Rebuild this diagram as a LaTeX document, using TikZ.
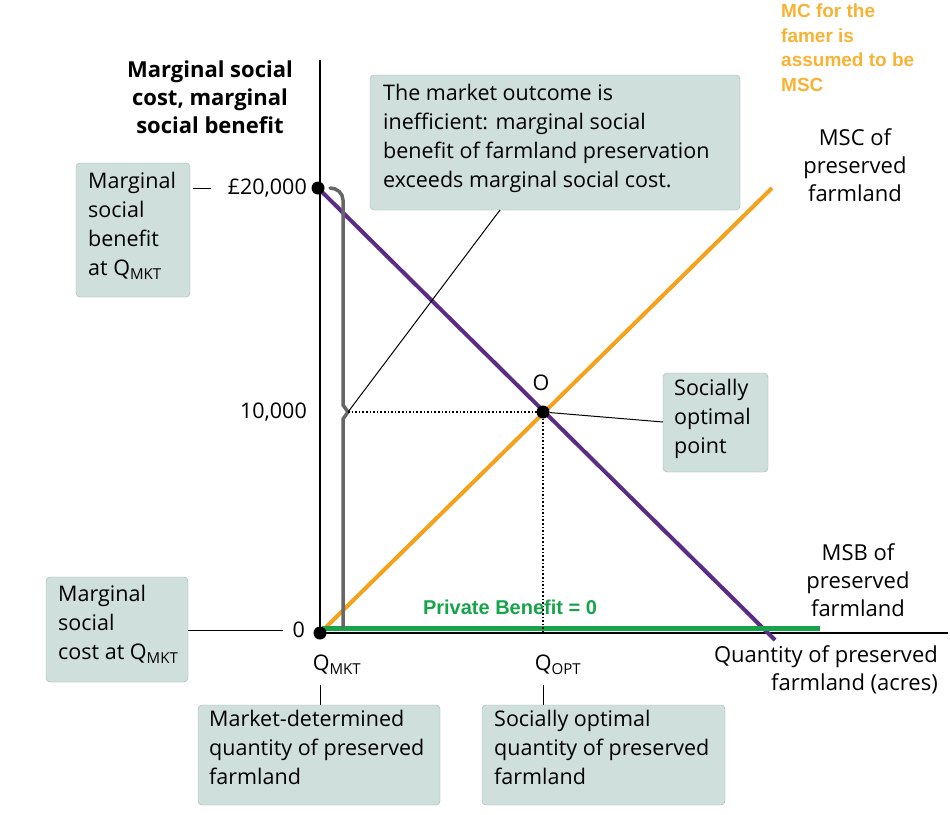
\documentclass[tikz,border=0pt]{standalone}
\usepackage{fontspec}
\setmainfont{Open Sans}
\newfontfamily\arialf{Liberation Sans}
\begin{document}
\begin{tikzpicture}[x=1pt,y=-1pt,
  tbox/.style={fill=boxc,draw=boxc!80!black,line width=0.4pt,rounded corners=4pt,inner sep=0pt,anchor=north west},
  btxt/.style={align=left,font=\fontsize{21.5}{29}\selectfont,anchor=north west,inner sep=0pt},
  lab/.style={font=\fontsize{21.5}{26}\selectfont,inner sep=0pt},
  dotp/.style={circle,fill=black,inner sep=0pt,minimum size=13pt},
  ln/.style={line width=1pt}]
\definecolor{boxc}{HTML}{CFDFDB}
\definecolor{purp}{HTML}{5B2C86}
\definecolor{orng}{HTML}{F5A11C}
\definecolor{grn}{HTML}{16A34A}
\definecolor{orngt}{HTML}{F7B334}
\useasboundingbox (0,0) rectangle (950,814);
\fill[white] (0,0) rectangle (950,814);
% axes
\coordinate (O0) at (320,633);
\coordinate (ytop) at (320,60);
\coordinate (xend) at (948,633);
\draw[line width=1.3pt] (ytop) -- (O0) -- (xend);
% lines
\coordinate (p20) at (318,188);
\coordinate (pmsb) at (775,640);
\coordinate (pmsc) at (772,188);
\coordinate (popt) at (543,412);
\draw[orng,line width=4pt] (O0) -- (pmsc);
\draw[purp,line width=4pt] (p20) -- (pmsb);
\coordinate (g1) at (322,628); \coordinate (g2) at (820,628);
\draw[grn,line width=5pt] (g1) -- (g2);
% brace
\draw[gray!80!black,line width=3.5pt,line cap=round] (330,188) to[out=0,in=90] (343,200) -- (343,405) -- (348,412) -- (343,419) -- (343,627);
% dotted
\coordinate (br) at (348,412);
\coordinate (qopt) at (543,633);
\draw[line width=1.6pt,dotted] (br) -- (popt) -- (qopt);
\node[dotp] (d20) at (p20) {};
\node[dotp] (dopt) at (popt) {};
\node[dotp] (d0) at (O0) {};
% axis labels
\node[lab,anchor=east] (l20) at (307,188) {£20,000};
\node[lab,anchor=east] (l10) at (307,412) {10,000};
\node[lab,anchor=east] (l0) at (305,630) {0};
\node[lab] (lO) at (541,383) {O};
\node[lab] (qm) at (337,665) {Q\textsubscript{MKT}};
\node[lab] (qo) at (558,665) {Q\textsubscript{OPT}};
\node[align=center,font=\fontsize{22}{28}\selectfont\bfseries,inner sep=0pt] (ttl) at (210,97) {Marginal social\\cost, marginal\\social benefit};
\node[align=right,font=\fontsize{22}{28}\selectfont,anchor=north east,inner sep=0pt] (qty) at (938,645) {Quantity of preserved\\farmland (acres)};
\node[align=center,font=\fontsize{22}{28}\selectfont,inner sep=0pt] (msc) at (855,165) {MSC of\\preserved\\farmland};
\node[align=center,font=\fontsize{22}{28}\selectfont,inner sep=0pt] (msb) at (858,580) {MSB of\\preserved\\farmland};
\node[grn,font=\arialf\fontsize{20}{24}\selectfont\bfseries,inner sep=0pt] (pb) at (510,607) {Private Benefit = 0};
\node[orngt,align=left,anchor=north west,font=\arialf\fontsize{19}{24.5}\selectfont\bfseries,inner sep=0pt] (mc) at (781,4) {MC for the\\famer is\\assumed to be\\MSC};
% boxes
\draw[tbox] (76,163) rectangle (190,297);
\node[btxt] (b1) at (88,172) {Marginal\\social\\benefit\\at Q\textsubscript{MKT}};
\coordinate (b1r) at (193,188); \coordinate (b1e) at (211,188);
\draw[ln] (b1r) -- (b1e);
\draw[tbox] (370,75) rectangle (740,210);
\node[btxt] (b2) at (383,84) {The market outcome is\\inefficient: marginal social\\benefit of farmland preservation\\exceeds marginal social cost.};
\coordinate (b2b) at (500,210);
\draw[ln] (b2b) -- (br);
\draw[tbox] (663,373) rectangle (768,472);
\node[btxt] (b3) at (674,379) {Socially\\optimal\\point};
\coordinate (b3l) at (663,422);
\draw[ln] (b3l) -- (dopt);
\draw[tbox] (46,577) rectangle (188,682);
\node[btxt] (b4) at (58,585) {Marginal\\social\\cost at Q\textsubscript{MKT}};
\coordinate (b4r) at (188,630); \coordinate (b4e) at (283,630);
\draw[ln] (b4r) -- (b4e);
\draw[tbox] (198,705) rectangle (440,805);
\node[btxt] (b5) at (209,710) {Market-determined\\quantity of preserved\\farmland};
\coordinate (t1a) at (320,685); \coordinate (t1b) at (320,705);
\draw[ln] (t1a) -- (t1b);
\draw[tbox] (482,705) rectangle (725,805);
\node[btxt] (b6) at (494,710) {Socially optimal\\quantity of preserved\\farmland};
\coordinate (t2a) at (543,685); \coordinate (t2b) at (543,705);
\draw[ln] (t2a) -- (t2b);
\end{tikzpicture}
\end{document}
